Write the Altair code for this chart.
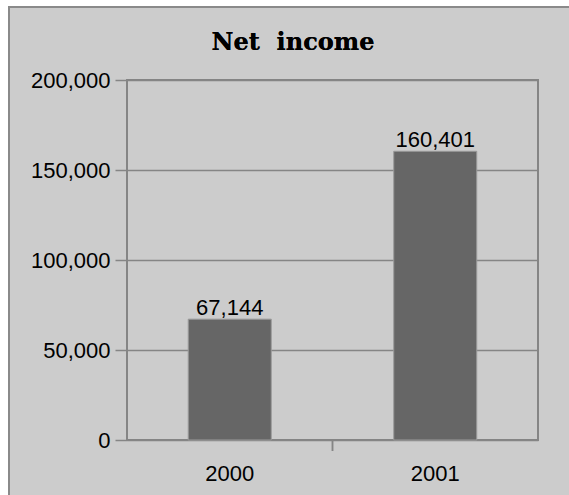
import altair as alt
import pandas as pd

years = ["2000", "2001"]
net_income = [67144, 160401]
y_ticks = [0, 50000, 100000, 150000, 200000]
title_text = "Net\u00a0\u00a0income"

df = pd.DataFrame({"year": years, "value": net_income})

FONT = "Liberation Sans"
GRID = "#858585"

y_axis = alt.Axis(title=None, values=y_ticks,
                  labelExpr="format(datum.value, ',')", domain=False,
                  grid=True, gridColor=GRID, gridWidth=1.5, gridOpacity=1,
                  tickColor=GRID, tickSize=12, tickWidth=1.5,
                  labelFont=FONT, labelFontSize=22, labelColor="black",
                  labelPadding=5)
x_axis = alt.Axis(title=None, labelAngle=0, ticks=False, domain=False,
                  labelFont=FONT, labelFontSize=22, labelColor="black",
                  labelPadding=23)
x_scale = alt.Scale(paddingInner=0.596, paddingOuter=0.298)
y_scale = alt.Scale(domain=[0, 200000], nice=False)

base = alt.Chart(df)

# page decoration: white margin strips and grey frame lines
white_left = base.mark_rect(color="white").encode(
    x=alt.value(-127), x2=alt.value(-119), y=alt.value(-80), y2=alt.value(415))
white_top = base.mark_rect(color="white").encode(
    x=alt.value(-127), x2=alt.value(442), y=alt.value(-80), y2=alt.value(-74))
frame_v = base.mark_rule(color="#8a8a8a", strokeWidth=2).encode(
    x=alt.value(-118), y=alt.value(-74), y2=alt.value(415))
frame_h = base.mark_rule(color="#8a8a8a", strokeWidth=2).encode(
    y=alt.value(-73), x=alt.value(-119), x2=alt.value(442))
mid_tick = base.mark_rule(color=GRID, strokeWidth=1.5).encode(
    x=alt.value(205.5), y=alt.value(361), y2=alt.value(371))
title = base.mark_text(font="DejaVu Serif", fontSize=24, fontWeight="bold", color="black",
                       align="center", baseline="alphabetic").encode(
    x=alt.value(166), y=alt.value(-30), text=alt.value(title_text))

bars = base.mark_bar(color="#666666", stroke="#9a9a9a", strokeWidth=1).encode(
    x=alt.X("year:N", scale=x_scale, axis=x_axis),
    y=alt.Y("value:Q", scale=y_scale, axis=y_axis),
)

labels = base.mark_text(font=FONT, fontSize=22, color="black", baseline="alphabetic", dy=-4).encode(
    x=alt.X("year:N", scale=x_scale, axis=x_axis),
    y=alt.Y("value:Q", scale=y_scale, axis=y_axis),
    text=alt.Text("value:Q", format=","),
)

chart = alt.layer(white_left, white_top, frame_v, frame_h, bars, labels, mid_tick, title).properties(
    width=411,
    height=360,
    autosize=alt.AutoSizeParams(type="none"),
    padding={"left": 127, "top": 80, "right": 31, "bottom": 55},
    background="#cccccc",
).configure_view(stroke=GRID, strokeWidth=2, fill="#cccccc")

chart.save("out.html", embed_options={"renderer": "svg", "actions": False})
